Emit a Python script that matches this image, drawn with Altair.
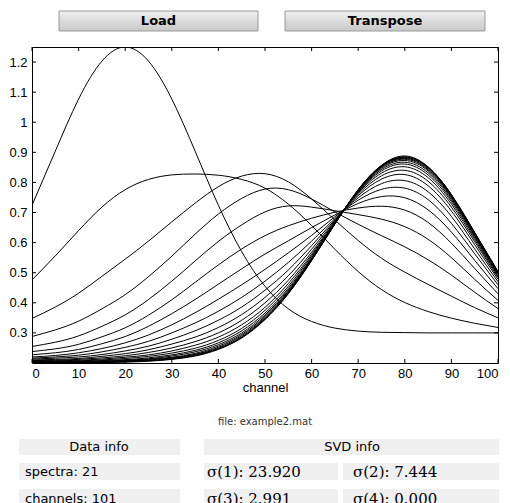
import altair as alt
import pandas as pd

# ---------------- data ----------------
channels = list(range(0, 101, 5))

spectra_values = [
    [0.724, 0.904, 1.077, 1.203, 1.250, 1.203, 1.077, 0.904, 0.724, 0.570, 0.455, 0.380, 0.338, 0.316, 0.306, 0.302, 0.301, 0.300, 0.300, 0.300, 0.300],
    [0.476, 0.556, 0.640, 0.718, 0.776, 0.810, 0.825, 0.828, 0.824, 0.810, 0.781, 0.728, 0.657, 0.578, 0.504, 0.444, 0.401, 0.371, 0.349, 0.332, 0.318],
    [0.348, 0.386, 0.432, 0.488, 0.545, 0.605, 0.669, 0.731, 0.786, 0.821, 0.829, 0.802, 0.745, 0.675, 0.607, 0.548, 0.502, 0.461, 0.422, 0.384, 0.350],
    [0.288, 0.310, 0.339, 0.380, 0.427, 0.487, 0.555, 0.628, 0.695, 0.747, 0.778, 0.776, 0.745, 0.702, 0.661, 0.623, 0.586, 0.543, 0.492, 0.435, 0.381],
    [0.255, 0.269, 0.290, 0.322, 0.360, 0.411, 0.472, 0.539, 0.604, 0.659, 0.702, 0.722, 0.718, 0.706, 0.693, 0.678, 0.653, 0.611, 0.550, 0.478, 0.408],
    [0.238, 0.247, 0.262, 0.287, 0.317, 0.359, 0.410, 0.468, 0.526, 0.579, 0.623, 0.656, 0.681, 0.701, 0.715, 0.721, 0.708, 0.667, 0.598, 0.514, 0.430],
    [0.227, 0.234, 0.245, 0.264, 0.288, 0.322, 0.364, 0.411, 0.462, 0.513, 0.562, 0.606, 0.650, 0.692, 0.730, 0.753, 0.749, 0.709, 0.635, 0.541, 0.447],
    [0.220, 0.225, 0.234, 0.248, 0.267, 0.293, 0.327, 0.367, 0.412, 0.460, 0.511, 0.566, 0.624, 0.686, 0.741, 0.777, 0.781, 0.743, 0.664, 0.563, 0.460],
    [0.216, 0.220, 0.226, 0.237, 0.252, 0.272, 0.300, 0.333, 0.372, 0.418, 0.472, 0.534, 0.605, 0.680, 0.749, 0.796, 0.806, 0.769, 0.687, 0.579, 0.470],
    [0.213, 0.216, 0.220, 0.228, 0.240, 0.256, 0.279, 0.307, 0.342, 0.386, 0.442, 0.509, 0.590, 0.676, 0.756, 0.811, 0.826, 0.789, 0.705, 0.593, 0.478],
    [0.210, 0.212, 0.215, 0.222, 0.231, 0.244, 0.263, 0.286, 0.318, 0.361, 0.418, 0.490, 0.578, 0.673, 0.761, 0.822, 0.840, 0.804, 0.718, 0.603, 0.484],
    [0.208, 0.209, 0.212, 0.217, 0.224, 0.235, 0.250, 0.271, 0.300, 0.342, 0.400, 0.475, 0.568, 0.670, 0.765, 0.831, 0.852, 0.816, 0.728, 0.610, 0.489],
    [0.206, 0.207, 0.209, 0.213, 0.219, 0.227, 0.240, 0.259, 0.286, 0.327, 0.385, 0.464, 0.561, 0.668, 0.768, 0.838, 0.861, 0.825, 0.736, 0.616, 0.493],
    [0.205, 0.206, 0.207, 0.210, 0.215, 0.222, 0.233, 0.249, 0.275, 0.315, 0.375, 0.455, 0.556, 0.666, 0.770, 0.843, 0.867, 0.832, 0.742, 0.621, 0.496],
    [0.204, 0.204, 0.205, 0.208, 0.211, 0.217, 0.227, 0.242, 0.267, 0.307, 0.366, 0.448, 0.551, 0.665, 0.771, 0.847, 0.873, 0.838, 0.747, 0.624, 0.498],
    [0.203, 0.203, 0.204, 0.206, 0.209, 0.214, 0.223, 0.237, 0.261, 0.300, 0.360, 0.443, 0.548, 0.664, 0.773, 0.850, 0.877, 0.842, 0.751, 0.627, 0.499],
    [0.202, 0.203, 0.203, 0.205, 0.207, 0.212, 0.219, 0.232, 0.256, 0.295, 0.355, 0.439, 0.546, 0.663, 0.774, 0.852, 0.880, 0.845, 0.754, 0.629, 0.501],
    [0.202, 0.202, 0.202, 0.203, 0.206, 0.210, 0.217, 0.229, 0.252, 0.291, 0.351, 0.436, 0.544, 0.663, 0.774, 0.854, 0.882, 0.848, 0.756, 0.631, 0.502],
    [0.201, 0.2015, 0.202, 0.203, 0.205, 0.208, 0.215, 0.227, 0.249, 0.287, 0.348, 0.433, 0.542, 0.662, 0.775, 0.855, 0.884, 0.850, 0.757, 0.632, 0.502],
    [0.201, 0.201, 0.2015, 0.202, 0.204, 0.207, 0.213, 0.225, 0.247, 0.285, 0.346, 0.431, 0.541, 0.662, 0.776, 0.856, 0.885, 0.851, 0.759, 0.633, 0.503],
    [0.201, 0.201, 0.201, 0.202, 0.203, 0.206, 0.212, 0.223, 0.245, 0.283, 0.344, 0.430, 0.540, 0.662, 0.776, 0.857, 0.888, 0.852, 0.760, 0.634, 0.504],
]

x_ticks = [0, 10, 20, 30, 40, 50, 60, 70, 80, 90, 100]
y_ticks = [0.3, 0.4, 0.5, 0.6, 0.7, 0.8, 0.9, 1.0, 1.1, 1.2]
x_domain = [0, 100]
y_domain = [0.2, 1.25]

button_labels = ["Load", "Transpose"]
file_label = ["file: example2.mat"]
data_info = ["Data info", "spectra: 21", "channels: 101"]
svd_header = ["SVD info"]
svd_values = ["σ(1): 23.920", "σ(2): 7.444", "σ(3): 2.991", "σ(4): 0.000"]

# ---------------- layout ----------------
W, H = 466, 316
PAD = {"left": 32, "top": 47, "right": 12, "bottom": 140}
SANS = "Liberation Sans"

rows = []
for i, vals in enumerate(spectra_values):
    for c, v in zip(channels, vals):
        rows.append({"spectrum": i, "channel": c, "value": v})
df = pd.DataFrame(rows)

xs = alt.Scale(domain=x_domain, nice=False, zero=False)
ys = alt.Scale(domain=y_domain, nice=False, zero=False)

x_axis = alt.Axis(values=x_ticks, ticks=False, domain=False, grid=False,
                  labelPadding=4, titlePadding=1,
                  labelFont=SANS, titleFont=SANS, labelFontSize=13,
                  titleFontSize=13, titleFontWeight="normal",
                  labelColor="black", titleColor="black")
y_axis = alt.Axis(values=y_ticks, format="~g", ticks=False, domain=False,
                  grid=False, labelPadding=5, labelFont=SANS,
                  labelFontSize=13, labelColor="black")

lines = alt.Chart(df).mark_line(
    color="black", strokeWidth=1, interpolate="natural", clip=True
).encode(
    x=alt.X("channel:Q", scale=xs, title="channel", axis=x_axis),
    y=alt.Y("value:Q", scale=ys, title=None, axis=y_axis),
    detail="spectrum:N",
)

xt = pd.DataFrame({"channel": x_ticks})
yt = pd.DataFrame({"value": y_ticks})
tick_bottom = alt.Chart(xt).mark_rule(color="black").encode(
    x=alt.X("channel:Q", scale=xs, title="channel", axis=x_axis),
    y=alt.value(H), y2=alt.value(H - 4))
tick_top = alt.Chart(xt).mark_rule(color="black").encode(
    x=alt.X("channel:Q", scale=xs, title="channel", axis=x_axis),
    y=alt.value(0), y2=alt.value(4))
tick_left = alt.Chart(yt).mark_rule(color="black").encode(
    y=alt.Y("value:Q", scale=ys, title=None, axis=y_axis),
    x=alt.value(0), x2=alt.value(4))
tick_right = alt.Chart(yt).mark_rule(color="black").encode(
    y=alt.Y("value:Q", scale=ys, title=None, axis=y_axis),
    x=alt.value(W), x2=alt.value(W - 4))


def box(x, x2, y, y2, **style):
    return alt.Chart(pd.DataFrame({"k": [0]})).mark_rect(**style).encode(
        x=alt.value(x), x2=alt.value(x2), y=alt.value(y), y2=alt.value(y2))


def label(text, x, y, align="center", **style):
    return alt.Chart(pd.DataFrame({"label": [text]})).mark_text(
        align=align, baseline="middle", **style).encode(
        x=alt.value(x), y=alt.value(y), text="label:N")


grad = alt.Gradient(
    gradient="linear",
    stops=[alt.GradientStop(color="#f0f0f0", offset=0),
           alt.GradientStop(color="#c8c8c8", offset=1)],
    x1=0, x2=0, y1=0, y2=1,
)

ui = []
# buttons
for text, (bx, bx2) in zip(button_labels, [(27, 226), (253, 453)]):
    ui.append(box(bx, bx2, -36, -16, fill=grad, stroke="#9a9a9a", strokeWidth=1))
    ui.append(label(text, (bx + bx2) / 2, -26, font="DejaVu Sans", fontSize=13,
                    fontWeight="bold", color="black"))

# file label
ui.append(label(file_label[0], 233, 375, font="DejaVu Sans", fontSize=10, color="#333333"))

# info table
CELL = "#f0f0f0"
ui.append(box(-13, 148, 392, 408, fill=CELL))
ui.append(box(172, 467, 392, 408, fill=CELL))
ui.append(label(data_info[0], 67, 400, font="DejaVu Sans", fontSize=13, color="black"))
ui.append(label(svd_header[0], 320, 400, font="DejaVu Sans", fontSize=13, color="black"))

for r, (y0, ty) in enumerate([(416, 424.5), (442, 451.5)]):
    ui.append(box(-13, 148, y0, y0 + 17, fill=CELL))
    ui.append(box(172, 306, y0, y0 + 17, fill=CELL))
    ui.append(box(311, 467, y0, y0 + 17, fill=CELL))
    ui.append(label(data_info[r + 1], -7, ty, align="left", font="DejaVu Sans",
                    fontSize=13, color="black"))
    ui.append(label(svd_values[2 * r], 175, ty, align="left", font="DejaVu Serif",
                    fontSize=15, color="black"))
    ui.append(label(svd_values[2 * r + 1], 321, ty, align="left", font="DejaVu Serif",
                    fontSize=15, color="black"))

chart = alt.layer(
    lines, tick_bottom, tick_top, tick_left, tick_right, *ui
).properties(
    width=W, height=H, padding=PAD,
    autosize=alt.AutoSizeParams(type="none"),
    background="white",
).configure_view(stroke="black", strokeWidth=1)

chart.save("out.html", embed_options={"renderer": "svg", "actions": False})
